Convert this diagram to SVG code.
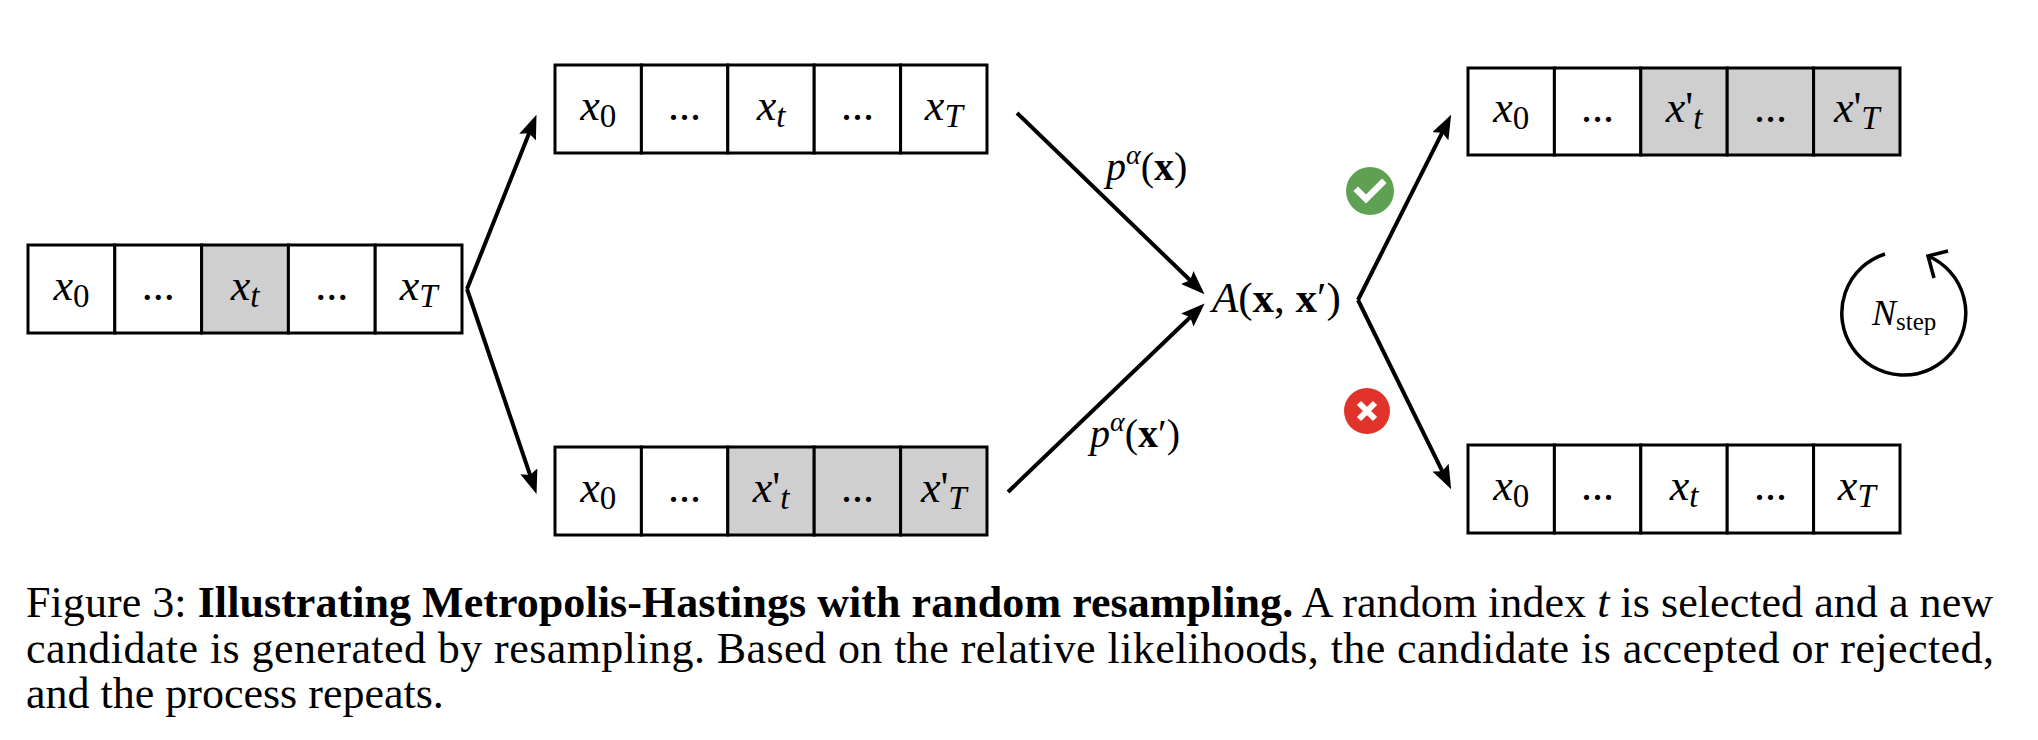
<svg xmlns="http://www.w3.org/2000/svg" width="2038" height="740" viewBox="0 0 2038 740">
<style>
.cell{fill:#ffffff;stroke:#000;stroke-width:3}
.g{fill:#cfcfcf}
.v{font-family:"Liberation Serif","Times New Roman",serif;font-size:44px;fill:#000;text-anchor:middle}
.i{font-style:italic}
.sub{font-size:33px}
.m{font-family:"Liberation Serif","Times New Roman",serif;fill:#000}
.conn{stroke:#000;stroke-width:4;fill:none;marker-end:url(#ah)}
.cap{font-family:"Liberation Serif","Times New Roman",serif;font-size:44px;fill:#000}
</style>
<defs>
<marker id="ah" markerUnits="userSpaceOnUse" viewBox="0 0 24 18" markerWidth="24" markerHeight="18" refX="13" refY="9" orient="auto">
<path d="M0,0 L24,9 L0,18 L4,9 z" fill="#000"/>
</marker>
</defs>
<rect width="2038" height="740" fill="#fff"/>

<g id="node-initial">
<rect class="cell" x="28" y="245" width="86.8" height="88"/>
<rect class="cell" x="114.8" y="245" width="86.8" height="88"/>
<rect class="cell g" x="201.6" y="245" width="86.8" height="88"/>
<rect class="cell" x="288.4" y="245" width="86.8" height="88"/>
<rect class="cell" x="375.2" y="245" width="86.8" height="88"/>
<text class="v" x="71.4" y="300"><tspan class="i">x</tspan><tspan class="sub" dy="7">0</tspan></text>
<text class="v" x="158.2" y="300">...</text>
<text class="v" x="245" y="300"><tspan class="i">x</tspan><tspan class="sub i" dy="7">t</tspan></text>
<text class="v" x="331.8" y="300">...</text>
<text class="v" x="418.6" y="300"><tspan class="i">x</tspan><tspan class="sub i" dy="7">T</tspan></text>
</g>

<g id="node-current">
<rect class="cell" x="555" y="65" width="86.4" height="88"/>
<rect class="cell" x="641.4" y="65" width="86.4" height="88"/>
<rect class="cell" x="727.8" y="65" width="86.4" height="88"/>
<rect class="cell" x="814.2" y="65" width="86.4" height="88"/>
<rect class="cell" x="900.6" y="65" width="86.4" height="88"/>
<text class="v" x="598.2" y="120"><tspan class="i">x</tspan><tspan class="sub" dy="7">0</tspan></text>
<text class="v" x="684.6" y="120">...</text>
<text class="v" x="771" y="120"><tspan class="i">x</tspan><tspan class="sub i" dy="7">t</tspan></text>
<text class="v" x="857.4" y="120">...</text>
<text class="v" x="943.8" y="120"><tspan class="i">x</tspan><tspan class="sub i" dy="7">T</tspan></text>
</g>

<g id="node-candidate">
<rect class="cell" x="555" y="447" width="86.4" height="88"/>
<rect class="cell" x="641.4" y="447" width="86.4" height="88"/>
<rect class="cell g" x="727.8" y="447" width="86.4" height="88"/>
<rect class="cell g" x="814.2" y="447" width="86.4" height="88"/>
<rect class="cell g" x="900.6" y="447" width="86.4" height="88"/>
<text class="v" x="598.2" y="502"><tspan class="i">x</tspan><tspan class="sub" dy="7">0</tspan></text>
<text class="v" x="684.6" y="502">...</text>
<text class="v" x="771" y="502"><tspan class="i">x</tspan>'<tspan class="sub i" dy="7">t</tspan></text>
<text class="v" x="857.4" y="502">...</text>
<text class="v" x="943.8" y="502"><tspan class="i">x</tspan>'<tspan class="sub i" dy="7">T</tspan></text>
</g>

<g id="node-acceptance">
<text class="m" x="1212" y="312" font-size="43"><tspan class="i">A</tspan>(<tspan font-weight="bold">x</tspan>, <tspan font-weight="bold">x</tspan>′)</text>
</g>

<g id="node-accepted">
<rect class="cell" x="1468" y="68" width="86.4" height="87"/>
<rect class="cell" x="1554.4" y="68" width="86.4" height="87"/>
<rect class="cell g" x="1640.8" y="68" width="86.4" height="87"/>
<rect class="cell g" x="1727.2" y="68" width="86.4" height="87"/>
<rect class="cell g" x="1813.6" y="68" width="86.4" height="87"/>
<text class="v" x="1511.2" y="122"><tspan class="i">x</tspan><tspan class="sub" dy="7">0</tspan></text>
<text class="v" x="1597.6" y="122">...</text>
<text class="v" x="1684" y="122"><tspan class="i">x</tspan>'<tspan class="sub i" dy="7">t</tspan></text>
<text class="v" x="1770.4" y="122">...</text>
<text class="v" x="1856.8" y="122"><tspan class="i">x</tspan>'<tspan class="sub i" dy="7">T</tspan></text>
</g>

<g id="node-rejected">
<rect class="cell" x="1468" y="445" width="86.4" height="88"/>
<rect class="cell" x="1554.4" y="445" width="86.4" height="88"/>
<rect class="cell" x="1640.8" y="445" width="86.4" height="88"/>
<rect class="cell" x="1727.2" y="445" width="86.4" height="88"/>
<rect class="cell" x="1813.6" y="445" width="86.4" height="88"/>
<text class="v" x="1511.2" y="500"><tspan class="i">x</tspan><tspan class="sub" dy="7">0</tspan></text>
<text class="v" x="1597.6" y="500">...</text>
<text class="v" x="1684" y="500"><tspan class="i">x</tspan><tspan class="sub i" dy="7">t</tspan></text>
<text class="v" x="1770.4" y="500">...</text>
<text class="v" x="1856.8" y="500"><tspan class="i">x</tspan><tspan class="sub i" dy="7">T</tspan></text>
</g>

<g id="connectors">
<path class="conn" d="M467,289 L532.4,125"/>
<path class="conn" d="M467,289 L533,483.6"/>
<path class="conn" d="M1017,113 L1196.6,286.5"/>
<path class="conn" d="M1008,492 L1196.7,311"/>
<path class="conn" d="M1358,300 L1446.2,124.6"/>
<path class="conn" d="M1358,300 L1446.3,479.3"/>
<text class="m" x="1106" y="180" font-size="40"><tspan class="i">p</tspan><tspan class="i" font-size="28" dy="-16">α</tspan><tspan dy="16">(</tspan><tspan font-weight="bold">x</tspan>)</text>
<text class="m" x="1090" y="447" font-size="40"><tspan class="i">p</tspan><tspan class="i" font-size="28" dy="-16">α</tspan><tspan dy="16">(</tspan><tspan font-weight="bold">x</tspan>′)</text>
</g>

<g id="icon-accept">
<circle cx="1370" cy="191" r="24" fill="#5fa153"/>
<path d="M1358,191 L1366,199 L1382,183" fill="none" stroke="#fff" stroke-width="6.5" stroke-linecap="square"/>
</g>
<g id="icon-reject">
<circle cx="1367" cy="411" r="23" fill="#e0332a"/>
<path d="M1359,403 L1375,419 M1375,403 L1359,419" fill="none" stroke="#fff" stroke-width="6" stroke-linecap="butt"/>
</g>

<g id="node-loop">
<path d="M1885,254 A62,62 0 1 0 1928,256" fill="none" stroke="#000" stroke-width="3.5"/>
<path d="M1948,251 L1928,256 L1934,278" fill="none" stroke="#000" stroke-width="3.5"/>
<text class="m" x="1872" y="325"><tspan class="i" font-size="36">N</tspan><tspan font-size="25" dy="5">step</tspan></text>
</g>

<g id="caption">
<text class="cap" x="26" y="617" textLength="1967" lengthAdjust="spacing">Figure 3: <tspan font-weight="bold">Illustrating Metropolis-Hastings with random resampling.</tspan> A random index <tspan font-style="italic">t</tspan> is selected and a new</text>
<text class="cap" x="26" y="663" textLength="1968" lengthAdjust="spacing">candidate is generated by resampling. Based on the relative likelihoods, the candidate is accepted or rejected,</text>
<text class="cap" x="26" y="708">and the process repeats.</text>
</g>
</svg>
